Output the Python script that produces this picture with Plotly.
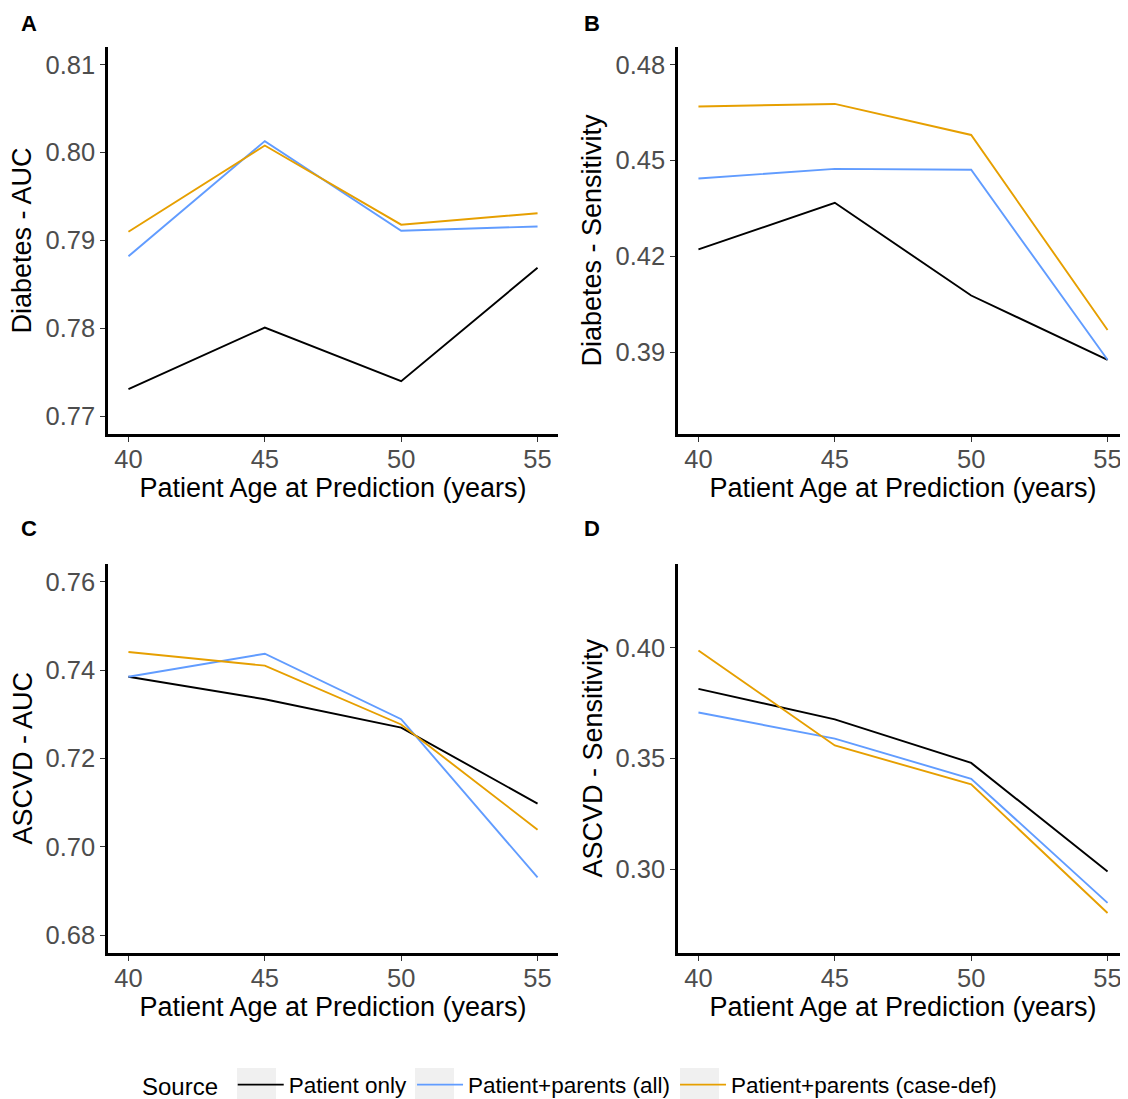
import plotly.graph_objects as go
from plotly.subplots import make_subplots

ages = [40, 45, 50, 55]
sources = ["Patient only", "Patient+parents (all)", "Patient+parents (case-def)"]
colors = ["#000000", "#619CFF", "#E69F00"]

diab_auc_patient = [0.7731, 0.7801, 0.7740, 0.7869]
diab_auc_all = [0.7882, 0.8013, 0.7911, 0.7916]
diab_auc_casedef = [0.7910, 0.8008, 0.7918, 0.7931]

diab_sens_patient = [0.4222, 0.4368, 0.4078, 0.3877]
diab_sens_all = [0.4444, 0.4474, 0.4471, 0.3877]
diab_sens_casedef = [0.4669, 0.4677, 0.4580, 0.3970]

ascvd_auc_patient = [0.7385, 0.7334, 0.7270, 0.7098]
ascvd_auc_all = [0.7385, 0.7437, 0.7289, 0.6931]
ascvd_auc_casedef = [0.7441, 0.7410, 0.7277, 0.7039]

ascvd_sens_patient = [0.3815, 0.3677, 0.3480, 0.2989]
ascvd_sens_all = [0.3708, 0.3590, 0.3408, 0.2847]
ascvd_sens_casedef = [0.3989, 0.3559, 0.3383, 0.2801]

panels = [
    ("A", "Diabetes - AUC", [diab_auc_patient, diab_auc_all, diab_auc_casedef],
     [0.77, 0.78, 0.79, 0.80, 0.81], [0.768, 0.812]),
    ("B", "Diabetes - Sensitivity", [diab_sens_patient, diab_sens_all, diab_sens_casedef],
     [0.39, 0.42, 0.45, 0.48], [0.3645, 0.4855]),
    ("C", "ASCVD - AUC", [ascvd_auc_patient, ascvd_auc_all, ascvd_auc_casedef],
     [0.68, 0.70, 0.72, 0.74, 0.76], [0.676, 0.764]),
    ("D", "ASCVD - Sensitivity", [ascvd_sens_patient, ascvd_sens_all, ascvd_sens_casedef],
     [0.30, 0.35, 0.40], [0.262, 0.438]),
]

# page body has an 8px margin: figure coordinates = screenshot - 8
W, H = 1120, 1110
FONT = "Liberation Sans, Arial, Helvetica, sans-serif"

fig = make_subplots(rows=2, cols=2)

xdoms = [[100 / W, 550 / W], [670 / W, 1.0]]
ydoms = [[1 - 426 / H, 1 - 39 / H], [1 - 945 / H, 1 - 556 / H]]

for i, (label, ytitle, series, yticks, yrange) in enumerate(panels):
    r, c = i // 2 + 1, i % 2 + 1
    for j, (name, col, vals) in enumerate(zip(sources, colors, series)):
        fig.add_trace(go.Scatter(
            x=ages, y=vals, mode="lines", name=name,
            line=dict(color=col, width=1.9),
            showlegend=(i == 0), legendgroup=name,
        ), row=r, col=c)
    fig.update_xaxes(
        domain=xdoms[c - 1], range=[39.25, 55.75],
        tickvals=ages, ticktext=[str(a) for a in ages],
        showline=True, linecolor="black", linewidth=2.5,
        ticks="outside", ticklen=5, tickcolor="#333333", tickwidth=1,
        ticklabelstandoff=-4,
        showgrid=False, zeroline=False,
        tickfont=dict(size=25.5, color="#4D4D4D", family=FONT),
        title=dict(text="Patient Age at Prediction (years)",
                   font=dict(size=27, color="black", family=FONT), standoff=2),
        row=r, col=c)
    fig.update_yaxes(
        domain=ydoms[r - 1], range=yrange,
        tickvals=yticks, ticktext=[f"{v:.2f}" for v in yticks],
        showline=True, linecolor="black", linewidth=2.5,
        ticks="outside", ticklen=5, tickcolor="#333333", tickwidth=1,
        showgrid=False, zeroline=False,
        tickfont=dict(size=25.5, color="#4D4D4D", family=FONT),
        row=r, col=c)
    # y-axis title placed as a rotated annotation (left of tick labels)
    tx = [14, 584][c - 1]
    ycen = (ydoms[r - 1][0] + ydoms[r - 1][1]) / 2
    fig.add_annotation(x=tx / W, y=ycen, xref="paper", yref="paper",
                       text=ytitle, textangle=-90, showarrow=False,
                       font=dict(size=27, color="black", family=FONT),
                       xanchor="center", yanchor="middle")
    lx = [21, 584][c - 1]
    ly = [16, 520][r - 1]
    fig.add_annotation(x=lx / W, y=1 - ly / H, xref="paper", yref="paper",
                       text=f"<b>{label}</b>", showarrow=False,
                       font=dict(size=22, color="black", family=FONT),
                       xanchor="center", yanchor="middle")

# light grey legend-key backgrounds
for x0 in [229, 407, 672]:
    fig.add_shape(type="rect", xref="paper", yref="paper",
                  x0=x0 / W, x1=(x0 + 39) / W, y0=1 - 1092 / H, y1=1 - 1060 / H,
                  fillcolor="#F0F0F0", line=dict(width=0), layer="below")

fig.update_layout(
    width=W, height=H,
    margin=dict(l=0, r=0, t=0, b=0, autoexpand=False),
    paper_bgcolor="white", plot_bgcolor="white",
    font=dict(family=FONT),
    legend=dict(
        orientation="h", x=563 / W, xanchor="center", y=1 - 1077 / H, yanchor="middle",
        bgcolor="rgba(0,0,0,0)",
        title=dict(text="Source ", font=dict(size=24, color="black", family=FONT)),
        font=dict(size=22.5, color="black", family=FONT),
        itemwidth=46,
    ),
)

fig.write_html("out.html")
